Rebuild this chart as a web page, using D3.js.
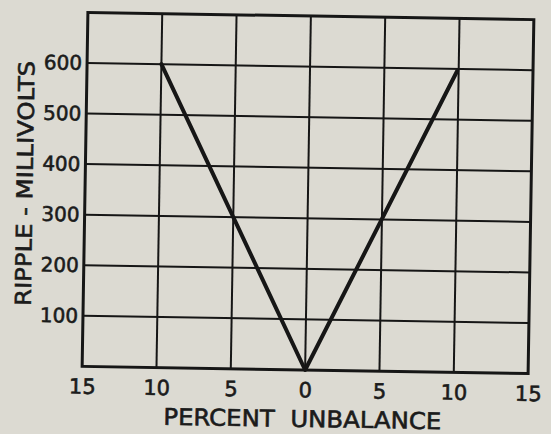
<!DOCTYPE html>
<html>
<head>
<meta charset="utf-8">
<script src="https://cdn.jsdelivr.net/npm/d3@7"></script>
<style>
  html, body { margin: 0; padding: 0; background: #dcdad2; }
  svg { display: block; }
  text { font-family: "DejaVu Sans", "Liberation Sans", sans-serif; fill: #1b1b1b; stroke: #1b1b1b; stroke-width: 0.6px; }
</style>
</head>
<body>
<svg id="chart" width="551" height="434"></svg>
<script>
// Ripple voltage against percent unbalance
const percentUnbalance = [-10, 0, 9.9];
const rippleMillivolts = [600, 0, 596];

const xTickValues = [-15, -10, -5, 0, 5, 10, 15];
const xTickLabels = ["15", "10", "5", "0", "5", "10", "15"];
const yTickValues = [100, 200, 300, 400, 500, 600];
const yTickLabels = ["100", "200", "300", "400", "500", "600"];
const xGridValues = [-10, -5, 0, 5, 10];
const yGridValues = [100, 200, 300, 400, 500, 600];

const xTitle = "PERCENT\u00a0\u00a0UNBALANCE";
const yTitle = "RIPPLE - MILLIVOLTS";

const W = 551, H = 434;
const margin = { top: 16, right: 20, bottom: 64, left: 85 };
const iw = W - margin.left - margin.right;
const ih = H - margin.top - margin.bottom;
const ink = "#161616";

const x = d3.scaleLinear().domain([-15, 15]).range([0, iw]);
const y = d3.scaleLinear().domain([0, 700]).range([ih, 0]);

const svg = d3.select("#chart");

// the whole sheet sits slightly turned
const sheet = svg.append("g")
  .attr("transform", `rotate(0.93, ${margin.left + iw / 2}, ${margin.top + ih / 2})`);

const plot = sheet.append("g")
  .attr("transform", `translate(${margin.left},${margin.top})`);

// grid
plot.append("g").selectAll("line.v").data(xGridValues).join("line")
  .attr("x1", d => x(d)).attr("x2", d => x(d))
  .attr("y1", 0).attr("y2", ih)
  .attr("stroke", ink).attr("stroke-width", 2);

plot.append("g").selectAll("line.h").data(yGridValues).join("line")
  .attr("x1", 0).attr("x2", iw)
  .attr("y1", d => y(d)).attr("y2", d => y(d))
  .attr("stroke", ink).attr("stroke-width", 2);

// frame
plot.append("rect")
  .attr("x", 0).attr("y", 0).attr("width", iw).attr("height", ih)
  .attr("fill", "none").attr("stroke", ink).attr("stroke-width", 3);

// axes (labels only)
const xAxis = d3.axisBottom(x)
  .tickValues(xTickValues)
  .tickFormat((d, i) => xTickLabels[i])
  .tickSize(0).tickPadding(0);
const gx = plot.append("g").attr("transform", `translate(0,${ih})`).call(xAxis);
gx.select(".domain").remove();
gx.selectAll("text")
  .attr("y", 20).attr("dy", "0.35em")
  .attr("font-size", 21).attr("font-family", null).attr("fill", null);

const yAxis = d3.axisLeft(y)
  .tickValues(yTickValues)
  .tickFormat((d, i) => yTickLabels[i])
  .tickSize(0).tickPadding(5);
const gy = plot.append("g").call(yAxis);
gy.select(".domain").remove();
gy.selectAll("text")
  .attr("font-size", 20).attr("font-family", null).attr("fill", null);

// data line
const pts = percentUnbalance.map((v, i) => [v, rippleMillivolts[i]]);
plot.append("path")
  .datum(pts)
  .attr("d", d3.line().x(d => x(d[0])).y(d => y(d[1])))
  .attr("fill", "none").attr("stroke", ink)
  .attr("stroke-width", 4).attr("stroke-linejoin", "round").attr("stroke-linecap", "round");

// titles
sheet.append("text")
  .attr("x", margin.left + x(0) - 2).attr("y", 427)
  .attr("text-anchor", "middle")
  .attr("font-size", 23)
  .attr("textLength", 278).attr("lengthAdjust", "spacingAndGlyphs")
  .text(xTitle);

sheet.append("text")
  .attr("transform", "translate(25,188) rotate(-90)")
  .attr("text-anchor", "middle")
  .attr("dominant-baseline", "central")
  .attr("font-size", 22)
  .attr("textLength", 245).attr("lengthAdjust", "spacingAndGlyphs")
  .text(yTitle);
</script>
</body>
</html>
